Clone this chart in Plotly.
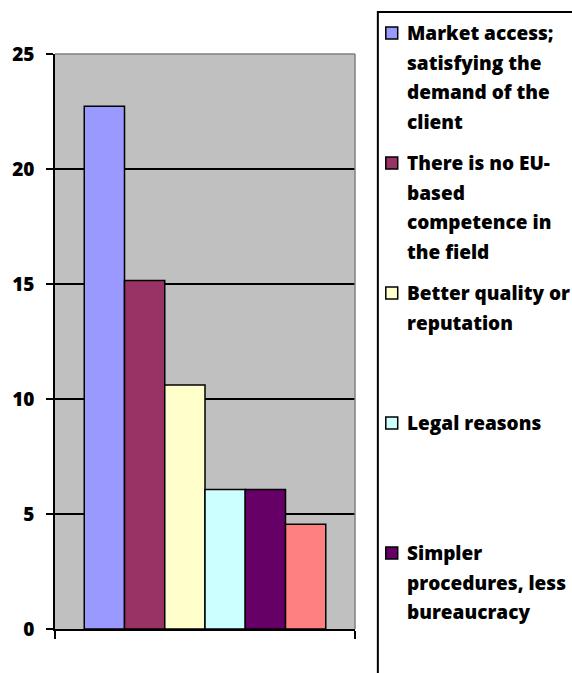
import plotly.graph_objects as go

# Reasons cited (share of respondents, %)
reasons = [
    "Market access;<br>satisfying the<br>demand of the<br>client",
    "There is no EU-<br>based<br>competence in<br>the field",
    "Better quality or<br>reputation",
    "Legal reasons",
    "Simpler<br>procedures, less<br>bureaucracy",
    "",
]
shares = [22.73, 15.15, 10.61, 6.06, 6.06, 4.55]
colors = ["#9999FF", "#993366", "#FFFFCC", "#CCFFFF", "#660066", "#FF8080"]
y_ticks = [0, 5, 10, 15, 20, 25]

W, H = 572, 673
L, R, T, B = 53, 355, 54, 629  # plot area edges in pixels
FONT = "Open Sans"
WEIGHT = 800


def px_x(x):
    return (x - L) / (R - L)


def px_y(y):
    return (B - y) / (B - T)


fig = go.Figure()
for name, val, col in zip(reasons, shares, colors):
    fig.add_trace(go.Bar(
        x=[""], y=[val], name=name.replace("<br>", " "),
        marker=dict(color=col, line=dict(color="black", width=1.5)),
        showlegend=False,
    ))

shapes = [
    # plot area frame (top and right edges)
    dict(type="line", xref="paper", yref="paper", x0=0, x1=1, y0=1, y1=1,
         line=dict(color="#808080", width=1.5), layer="above"),
    dict(type="line", xref="paper", yref="paper", x0=1, x1=1, y0=0, y1=1,
         line=dict(color="#808080", width=1.5), layer="above"),
    # legend frame
    dict(type="rect", xref="paper", yref="paper",
         x0=px_x(378), x1=px_x(600), y0=px_y(700), y1=px_y(12),
         line=dict(color="black", width=2), fillcolor="white", layer="above"),
]
annotations = []

item_top, item_step, line_step = 33, 130, 29.6
for i, (name, col) in enumerate(zip(reasons, colors)):
    if not name:
        continue
    y0 = item_top + i * item_step
    shapes.append(dict(
        type="rect", xref="paper", yref="paper",
        x0=px_x(386), x1=px_x(398), y0=px_y(y0 + 6), y1=px_y(y0 - 6),
        fillcolor=col, line=dict(color="black", width=1.5), layer="above"))
    for j, line in enumerate(name.split("<br>")):
        annotations.append(dict(
            xref="paper", yref="paper", x=px_x(405), y=px_y(y0 + j * line_step),
            xanchor="left", yanchor="middle", showarrow=False, text=line,
            font=dict(family=FONT, size=19, color="black", weight=WEIGHT),
        ))

fig.update_layout(
    width=W, height=H,
    margin=dict(l=L, r=W - R, t=T, b=H - B, pad=0),
    paper_bgcolor="white", plot_bgcolor="#C0C0C0",
    barmode="group", bargap=0.195, bargroupgap=0,
    shapes=shapes, annotations=annotations,
    showlegend=False,
)
fig.update_xaxes(
    type="category", showticklabels=False, showgrid=False, zeroline=False,
    showline=True, linecolor="black", linewidth=1.5,
    ticks="outside", tickson="boundaries", ticklen=8, tickcolor="black", tickwidth=1.5,
)
fig.update_yaxes(
    range=[0, 25], tickvals=y_ticks, ticks="outside", ticklen=7,
    tickcolor="black", tickwidth=1.5,
    showline=True, linecolor="black", linewidth=1.5,
    showgrid=True, gridcolor="black", gridwidth=1.5, zeroline=False,
    tickfont=dict(family=FONT, size=19, color="black", weight=WEIGHT),
    ticklabelstandoff=8,
)

fig.write_html("out.html")
